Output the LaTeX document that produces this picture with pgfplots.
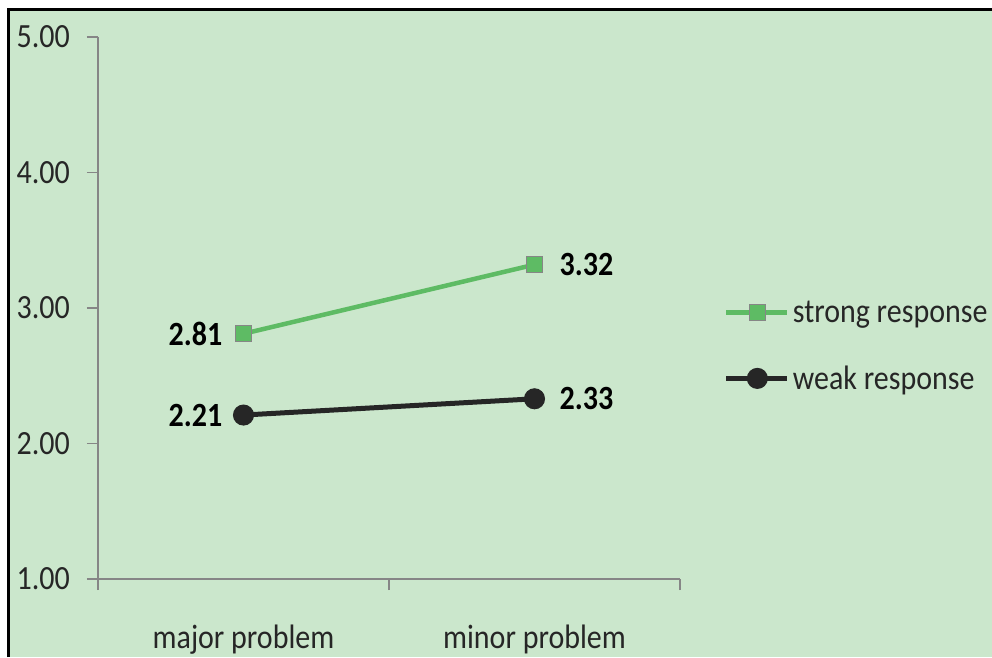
\documentclass[border=0pt]{standalone}
\usepackage{pgfplots}
\pgfplotsset{compat=1.18}
\usepackage{graphicx}
\usepackage{fontspec}
\setmainfont{Carlito}
\definecolor{bgc}{RGB}{203,231,204}
\definecolor{axc}{RGB}{134,134,134}
\definecolor{grn}{RGB}{94,187,100}
\definecolor{blk}{RGB}{38,38,38}
\newcommand{\sy}[1]{\scalebox{1}[1.13]{#1}}
\begin{document}
\begin{tikzpicture}[x=1pt,y=1pt]
\useasboundingbox (0,0) rectangle (992,657);
\fill[white] (0,0) rectangle (992,657);
\fill[bgc] (7,0) rectangle (992,649);
\draw[black,line width=3pt] (8.5,0) -- (8.5,647.5) -- (992,647.5);
\begin{axis}[
  at={(98pt,78pt)}, anchor=south west,
  scale only axis, width=582pt, height=542pt,
  xmin=0, xmax=2, ymin=1, ymax=5,
  axis lines*=left,
  axis line style={axc, line width=1.5pt},
  tick style={axc, line width=1.5pt},
  tick align=outside,
  major tick length=11pt,
  xtick={0,1,2}, xticklabels={},
  extra x ticks={0.5,1.5},
  extra x tick labels={\sy{major problem}, \sy{minor problem}},
  extra x tick style={major tick length=0pt, xticklabel style={anchor=north, inner sep=0pt, yshift=-46pt}},
  ytick={1,2,3,4,5},
  yticklabel={\sy{\pgfmathprintnumber[fixed,fixed zerofill,precision=2,assume math mode=true]{\tick}}},
  yticklabel style={inner sep=0pt, xshift=-17pt, text=blk},
  ticklabel style={font=\fontsize{30}{34}\selectfont, text=blk},
  legend style={draw=none, fill=none, at={(1.075,0.43)}, anchor=west,
    font=\fontsize{30}{34}\selectfont, row sep=36pt, inner sep=0pt,
    nodes={inner sep=3pt, text=blk}},
  legend cell align=left,
  legend image code/.code={\draw[mark repeat=2,mark phase=2] plot coordinates {(0pt,0pt) (31pt,0pt) (61pt,0pt)};},
  clip=false,
]
\addplot[grn, line width=4.5pt, mark=square*, mark size=8pt, mark options={fill=grn, draw=axc, line width=1.2pt}]
  coordinates {(0.5,2.81) (1.5,3.32)};
\addlegendentry{\sy{strong response}}
\addplot[blk, line width=5pt, mark=*, mark size=8pt, mark options={fill=blk, draw=blk}]
  coordinates {(0.5,2.21) (1.5,2.33)};
\addlegendentry{\sy{weak response}}
\addplot[draw=none, forget plot, nodes near coords={\sy{\pgfplotspointmeta}}, point meta=explicit symbolic,
  every node near coord/.style={anchor=east, inner sep=0pt, xshift=-21pt, yshift=0pt, font=\fontsize{30}{34}\selectfont\bfseries, text=black}]
  coordinates {(0.5,2.81) [2.81] (0.5,2.21) [2.21]};
\addplot[draw=none, forget plot, nodes near coords={\sy{\pgfplotspointmeta}}, point meta=explicit symbolic,
  every node near coord/.style={anchor=west, inner sep=0pt, xshift=25pt, yshift=0pt, font=\fontsize{30}{34}\selectfont\bfseries, text=black}]
  coordinates {(1.5,3.32) [3.32] (1.5,2.33) [2.33]};
\end{axis}
\end{tikzpicture}
\end{document}
